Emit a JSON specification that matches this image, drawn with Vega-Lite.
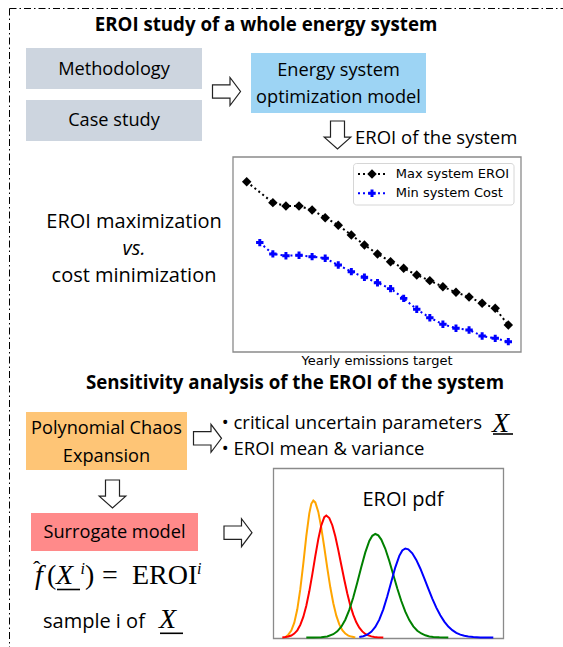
{
  "$schema": "https://vega.github.io/schema/vega-lite/v6.json",
  "width": 563,
  "height": 647,
  "padding": 0,
  "autosize": {"type": "none"},
  "background": "white",
  "config": {"view": {"stroke": null}},
  "datasets": {
    "border": [
      {"x": 9.5, "y": 8.5, "x2": 563, "y2": 8.5},
      {"x": 9.5, "y": 8.5, "x2": 9.5, "y2": 647}
    ],
    "boxes": [
      {"box": "Methodology", "kind": "input", "x": 26, "x2": 202, "y": 48, "y2": 89},
      {"box": "Case study", "kind": "input", "x": 26, "x2": 202, "y": 100, "y2": 141},
      {"box": "Energy system optimization model", "kind": "model", "x": 251, "x2": 426, "y": 53, "y2": 113},
      {"box": "Polynomial Chaos Expansion", "kind": "pce", "x": 26, "x2": 187, "y": 412, "y2": 470},
      {"box": "Surrogate model", "kind": "surrogate", "x": 31, "x2": 198, "y": 513, "y2": 551}
    ],
    "frames": [
      {"frame": "optimization results", "x": 233, "x2": 521, "y": 157, "y2": 352},
      {"frame": "EROI pdf", "x": 273.5, "x2": 503.5, "y": 468.5, "y2": 638.5}
    ],
    "legendbox": [
      {"x": 353.5, "x2": 514, "y": 163.5, "y2": 205}
    ],
    "arrows": [
      {"dir": "right", "x": 226.5, "y": 91.5},
      {"dir": "down", "x": 337.5, "y": 135},
      {"dir": "right", "x": 207.5, "y": 438.3},
      {"dir": "down", "x": 112.5, "y": 494},
      {"dir": "right", "x": 238, "y": 532.7}
    ],
    "titles": [
      {"text": "EROI study of a whole energy system", "x": 266, "y": 25},
      {"text": "Sensitivity analysis of the EROI of the system", "x": 295, "y": 383}
    ],
    "labels": [
      {"text": "Methodology", "x": 114, "y": 70},
      {"text": "Case study", "x": 114, "y": 121},
      {"text": "Energy system", "x": 338.5, "y": 71},
      {"text": "optimization model", "x": 338.5, "y": 98},
      {"text": "Polynomial Chaos", "x": 106.5, "y": 428.5},
      {"text": "Expansion", "x": 106.5, "y": 457},
      {"text": "Surrogate model", "x": 114.5, "y": 533}
    ],
    "biglabels": [
      {"text": "EROI maximization", "x": 134, "y": 222},
      {"text": "cost minimization", "x": 134, "y": 276},
      {"text": "EROI pdf", "x": 403, "y": 499.5}
    ],
    "leftlabels": [
      {"text": "EROI of the system", "x": 355, "y": 137.5},
      {"text": "• critical uncertain parameters", "x": 221.7, "y": 423.3},
      {"text": "• EROI mean & variance", "x": 221.7, "y": 449.3}
    ],
    "bigleftlabels": [
      {"text": "sample i of", "x": 43, "y": 621.7}
    ],
    "italic": [
      {"text": "vs.", "x": 134, "y": 249}
    ],
    "mathitalic": [
      {"text": "X", "x": 492, "y": 431.5},
      {"text": "X", "x": 159, "y": 628},
      {"text": "X", "x": 56, "y": 584},
      {"text": "f", "x": 35, "y": 584}
    ],
    "mathregular": [
      {"text": "(", "x": 47, "y": 584},
      {"text": ")", "x": 85, "y": 584},
      {"text": "=", "x": 102, "y": 584},
      {"text": "EROI", "x": 132, "y": 584}
    ],
    "hats": [
      {"text": "ˆ", "x": 33, "y": 576}
    ],
    "superscripts": [
      {"text": "i", "x": 80.5, "y": 574},
      {"text": "i", "x": 197, "y": 574}
    ],
    "underlines": [
      {"x": 57, "x2": 80, "y": 589.5, "y2": 589.5},
      {"x": 493, "x2": 513, "y": 434, "y2": 434},
      {"x": 160, "x2": 183, "y": 633.3, "y2": 633.3}
    ],
    "legendlines": [
      {"series": "Max system EROI", "x": 358, "x2": 386, "y": 174, "y2": 174},
      {"series": "Min system Cost", "x": 358, "x2": 386, "y": 193.3, "y2": 193.3}
    ],
    "legendmarks": [
      {"series": "Max system EROI", "x": 372, "y": 174},
      {"series": "Min system Cost", "x": 372, "y": 193.3}
    ],
    "legendtext": [
      {"text": "Max system EROI", "x": 395.7, "y": 174},
      {"text": "Min system Cost", "x": 395.7, "y": 193.3}
    ],
    "axistext": [
      {"text": "Yearly emissions target", "x": 377, "y": 360.7}
    ],
    "curves": [
      {"series": "Max system EROI", "target": 0, "eroi": 87.3},
      {"series": "Max system EROI", "target": 2, "eroi": 76.6},
      {"series": "Max system EROI", "target": 3, "eroi": 74.9},
      {"series": "Max system EROI", "target": 4, "eroi": 74.9},
      {"series": "Max system EROI", "target": 5, "eroi": 72.8},
      {"series": "Max system EROI", "target": 6, "eroi": 68.9},
      {"series": "Max system EROI", "target": 7, "eroi": 65.0},
      {"series": "Max system EROI", "target": 8, "eroi": 60.0},
      {"series": "Max system EROI", "target": 9, "eroi": 54.9},
      {"series": "Max system EROI", "target": 10, "eroi": 50.3},
      {"series": "Max system EROI", "target": 11, "eroi": 46.3},
      {"series": "Max system EROI", "target": 12, "eroi": 42.9},
      {"series": "Max system EROI", "target": 13, "eroi": 39.5},
      {"series": "Max system EROI", "target": 14, "eroi": 36.6},
      {"series": "Max system EROI", "target": 15, "eroi": 33.5},
      {"series": "Max system EROI", "target": 16, "eroi": 30.6},
      {"series": "Max system EROI", "target": 17, "eroi": 28.2},
      {"series": "Max system EROI", "target": 18, "eroi": 25.0},
      {"series": "Max system EROI", "target": 19, "eroi": 22.4},
      {"series": "Max system EROI", "target": 20, "eroi": 13.8},
      {"series": "Min system Cost", "target": 1, "eroi": 56.1},
      {"series": "Min system Cost", "target": 2, "eroi": 50.3},
      {"series": "Min system Cost", "target": 3, "eroi": 49.4},
      {"series": "Min system Cost", "target": 4, "eroi": 49.6},
      {"series": "Min system Cost", "target": 5, "eroi": 48.9},
      {"series": "Min system Cost", "target": 6, "eroi": 48.1},
      {"series": "Min system Cost", "target": 7, "eroi": 44.6},
      {"series": "Min system Cost", "target": 8, "eroi": 41.2},
      {"series": "Min system Cost", "target": 9, "eroi": 38.3},
      {"series": "Min system Cost", "target": 10, "eroi": 35.5},
      {"series": "Min system Cost", "target": 11, "eroi": 32.5},
      {"series": "Min system Cost", "target": 12, "eroi": 27.5},
      {"series": "Min system Cost", "target": 13, "eroi": 21.9},
      {"series": "Min system Cost", "target": 14, "eroi": 17.6},
      {"series": "Min system Cost", "target": 15, "eroi": 14.2},
      {"series": "Min system Cost", "target": 16, "eroi": 12.2},
      {"series": "Min system Cost", "target": 17, "eroi": 11.3},
      {"series": "Min system Cost", "target": 18, "eroi": 8.2},
      {"series": "Min system Cost", "target": 19, "eroi": 7.0},
      {"series": "Min system Cost", "target": 20, "eroi": 5.3}
    ],
    "pdf": [
      {"curve": "c1", "eroi": 12, "density": 0},
      {"curve": "c1", "eroi": 15, "density": 2.9},
      {"curve": "c1", "eroi": 18, "density": 6.9},
      {"curve": "c1", "eroi": 21, "density": 14.8},
      {"curve": "c1", "eroi": 24, "density": 28.2},
      {"curve": "c1", "eroi": 27, "density": 48.3},
      {"curve": "c1", "eroi": 30, "density": 73.9},
      {"curve": "c1", "eroi": 33, "density": 101.3},
      {"curve": "c1", "eroi": 36, "density": 124.1},
      {"curve": "c1", "eroi": 38, "density": 133.7},
      {"curve": "c1", "eroi": 40, "density": 137},
      {"curve": "c1", "eroi": 42, "density": 135.1},
      {"curve": "c1", "eroi": 45, "density": 125.6},
      {"curve": "c1", "eroi": 48, "density": 109.7},
      {"curve": "c1", "eroi": 51, "density": 90},
      {"curve": "c1", "eroi": 54, "density": 69.4},
      {"curve": "c1", "eroi": 57, "density": 50.2},
      {"curve": "c1", "eroi": 60, "density": 34.2},
      {"curve": "c1", "eroi": 63, "density": 21.8},
      {"curve": "c1", "eroi": 66, "density": 13.1},
      {"curve": "c1", "eroi": 69, "density": 7.4},
      {"curve": "c1", "eroi": 72, "density": 3.9},
      {"curve": "c1", "eroi": 75, "density": 1.9},
      {"curve": "c1", "eroi": 78, "density": 0.9},
      {"curve": "c1", "eroi": 82, "density": 0},
      {"curve": "c2", "eroi": 9, "density": 0},
      {"curve": "c2", "eroi": 12, "density": 0.4},
      {"curve": "c2", "eroi": 15, "density": 1},
      {"curve": "c2", "eroi": 18, "density": 2},
      {"curve": "c2", "eroi": 21, "density": 3.9},
      {"curve": "c2", "eroi": 24, "density": 7.2},
      {"curve": "c2", "eroi": 27, "density": 12.6},
      {"curve": "c2", "eroi": 30, "density": 20.6},
      {"curve": "c2", "eroi": 33, "density": 31.8},
      {"curve": "c2", "eroi": 36, "density": 46.2},
      {"curve": "c2", "eroi": 39, "density": 63.2},
      {"curve": "c2", "eroi": 42, "density": 81.3},
      {"curve": "c2", "eroi": 45, "density": 98.4},
      {"curve": "c2", "eroi": 48, "density": 112.2},
      {"curve": "c2", "eroi": 51, "density": 120.4},
      {"curve": "c2", "eroi": 53, "density": 122},
      {"curve": "c2", "eroi": 56, "density": 119.5},
      {"curve": "c2", "eroi": 59, "density": 112.3},
      {"curve": "c2", "eroi": 62, "density": 101.2},
      {"curve": "c2", "eroi": 65, "density": 87.4},
      {"curve": "c2", "eroi": 68, "density": 72.5},
      {"curve": "c2", "eroi": 71, "density": 57.7},
      {"curve": "c2", "eroi": 74, "density": 44},
      {"curve": "c2", "eroi": 77, "density": 32.1},
      {"curve": "c2", "eroi": 80, "density": 22.6},
      {"curve": "c2", "eroi": 83, "density": 15.2},
      {"curve": "c2", "eroi": 86, "density": 9.8},
      {"curve": "c2", "eroi": 89, "density": 6.1},
      {"curve": "c2", "eroi": 92, "density": 3.6},
      {"curve": "c2", "eroi": 95, "density": 2.1},
      {"curve": "c2", "eroi": 98, "density": 1.1},
      {"curve": "c2", "eroi": 101, "density": 0.6},
      {"curve": "c2", "eroi": 104, "density": 0.3},
      {"curve": "c2", "eroi": 110, "density": 0},
      {"curve": "c3", "eroi": 33, "density": 0},
      {"curve": "c3", "eroi": 40, "density": 0.1},
      {"curve": "c3", "eroi": 48, "density": 0.3},
      {"curve": "c3", "eroi": 54, "density": 1.1},
      {"curve": "c3", "eroi": 60, "density": 3.3},
      {"curve": "c3", "eroi": 64, "density": 6.2},
      {"curve": "c3", "eroi": 68, "density": 10.8},
      {"curve": "c3", "eroi": 72, "density": 17.8},
      {"curve": "c3", "eroi": 76, "density": 27.6},
      {"curve": "c3", "eroi": 80, "density": 40.2},
      {"curve": "c3", "eroi": 84, "density": 55},
      {"curve": "c3", "eroi": 88, "density": 70.6},
      {"curve": "c3", "eroi": 92, "density": 85.1},
      {"curve": "c3", "eroi": 96, "density": 96.5},
      {"curve": "c3", "eroi": 99, "density": 101.7},
      {"curve": "c3", "eroi": 102, "density": 103.5},
      {"curve": "c3", "eroi": 105, "density": 102.1},
      {"curve": "c3", "eroi": 108, "density": 97.9},
      {"curve": "c3", "eroi": 112, "density": 88.7},
      {"curve": "c3", "eroi": 116, "density": 76.5},
      {"curve": "c3", "eroi": 120, "density": 62.8},
      {"curve": "c3", "eroi": 124, "density": 49},
      {"curve": "c3", "eroi": 128, "density": 36.5},
      {"curve": "c3", "eroi": 132, "density": 25.8},
      {"curve": "c3", "eroi": 136, "density": 17.4},
      {"curve": "c3", "eroi": 140, "density": 11.1},
      {"curve": "c3", "eroi": 144, "density": 6.8},
      {"curve": "c3", "eroi": 148, "density": 4},
      {"curve": "c3", "eroi": 152, "density": 2.2},
      {"curve": "c3", "eroi": 156, "density": 1.1},
      {"curve": "c3", "eroi": 160, "density": 0.6},
      {"curve": "c3", "eroi": 166, "density": 0.2},
      {"curve": "c3", "eroi": 175, "density": 0},
      {"curve": "c4", "eroi": 86, "density": 0.6},
      {"curve": "c4", "eroi": 90, "density": 1.3},
      {"curve": "c4", "eroi": 94, "density": 2.9},
      {"curve": "c4", "eroi": 98, "density": 5.7},
      {"curve": "c4", "eroi": 102, "density": 10.5},
      {"curve": "c4", "eroi": 106, "density": 17.8},
      {"curve": "c4", "eroi": 110, "density": 28.2},
      {"curve": "c4", "eroi": 114, "density": 41.2},
      {"curve": "c4", "eroi": 118, "density": 55.8},
      {"curve": "c4", "eroi": 122, "density": 70.2},
      {"curve": "c4", "eroi": 126, "density": 81.7},
      {"curve": "c4", "eroi": 129, "density": 87.1},
      {"curve": "c4", "eroi": 132, "density": 89},
      {"curve": "c4", "eroi": 135, "density": 88.1},
      {"curve": "c4", "eroi": 139, "density": 84.2},
      {"curve": "c4", "eroi": 143, "density": 77.6},
      {"curve": "c4", "eroi": 147, "density": 69},
      {"curve": "c4", "eroi": 151, "density": 59.1},
      {"curve": "c4", "eroi": 155, "density": 48.8},
      {"curve": "c4", "eroi": 159, "density": 38.9},
      {"curve": "c4", "eroi": 163, "density": 29.9},
      {"curve": "c4", "eroi": 167, "density": 22.2},
      {"curve": "c4", "eroi": 171, "density": 15.9},
      {"curve": "c4", "eroi": 175, "density": 10.9},
      {"curve": "c4", "eroi": 179, "density": 7.3},
      {"curve": "c4", "eroi": 183, "density": 4.7},
      {"curve": "c4", "eroi": 187, "density": 2.9},
      {"curve": "c4", "eroi": 191, "density": 1.7},
      {"curve": "c4", "eroi": 195, "density": 1},
      {"curve": "c4", "eroi": 200, "density": 0.5},
      {"curve": "c4", "eroi": 207, "density": 0.1},
      {"curve": "c4", "eroi": 220, "density": 0}
    ]
  },
  "resolve": {"scale": {"x": "independent", "y": "independent", "color": "independent", "shape": "independent"}},
  "layer": [
    {
      "encoding": {
        "x": {"field": "x", "type": "quantitative", "scale": {"domain": [0, 563], "range": [0, 563], "nice": false, "zero": false}, "axis": null},
        "y": {"field": "y", "type": "quantitative", "scale": {"domain": [0, 647], "range": [0, 647], "nice": false, "zero": false}, "axis": null}
      },
      "resolve": {"scale": {"color": "independent", "shape": "independent"}},
      "layer": [
        {
          "data": {"name": "border"},
          "mark": {"type": "rule", "color": "#000000", "strokeWidth": 1, "strokeDash": [7, 3, 1.5, 3]},
          "encoding": {"x2": {"field": "x2"}, "y2": {"field": "y2"}}
        },
        {
          "data": {"name": "boxes"},
          "mark": {"type": "rect", "opacity": 1},
          "encoding": {
            "x2": {"field": "x2"},
            "y2": {"field": "y2"},
            "color": {"field": "kind", "type": "nominal", "scale": {"domain": ["input", "model", "pce", "surrogate"], "range": ["#cdd5df", "#9dd4f4", "#fec576", "#ff8a8a"]}, "legend": null}
          }
        },
        {
          "data": {"name": "frames"},
          "mark": {"type": "rect", "fill": "white", "stroke": "#8a8a8a", "strokeWidth": 1.3},
          "encoding": {"x2": {"field": "x2"}, "y2": {"field": "y2"}}
        },
        {
          "data": {"name": "legendbox"},
          "mark": {"type": "rect", "fill": "white", "stroke": "#d6d6d6", "strokeWidth": 1, "cornerRadius": 3},
          "encoding": {"x2": {"field": "x2"}, "y2": {"field": "y2"}}
        },
        {
          "data": {"name": "legendlines"},
          "mark": {"type": "rule", "strokeWidth": 2, "strokeDash": [2, 3]},
          "encoding": {
            "x2": {"field": "x2"},
            "y2": {"field": "y2"},
            "color": {"field": "series", "type": "nominal", "scale": {"domain": ["Max system EROI", "Min system Cost"], "range": ["#000000", "#0000ff"]}, "legend": null}
          }
        },
        {
          "data": {"name": "legendmarks"},
          "mark": {"type": "point", "filled": true, "opacity": 1},
          "encoding": {
            "color": {"field": "series", "type": "nominal", "scale": {"domain": ["Max system EROI", "Min system Cost"], "range": ["#000000", "#0000ff"]}, "legend": null},
            "shape": {"field": "series", "type": "nominal", "scale": {"domain": ["Max system EROI", "Min system Cost"], "range": ["diamond", "cross"]}, "legend": null},
            "size": {"field": "series", "type": "nominal", "scale": {"domain": ["Max system EROI", "Min system Cost"], "range": [90, 55]}, "legend": null}
          }
        },
        {
          "data": {"name": "arrows"},
          "mark": {"type": "point", "filled": false, "fill": "white", "fillOpacity": 1, "stroke": "#222222", "strokeWidth": 1.2, "opacity": 1, "size": 784},
          "encoding": {
            "shape": {"field": "dir", "type": "nominal", "scale": {"domain": ["right", "down"], "range": ["M-1,-0.48 L0.25,-0.48 L0.25,-1 L1,0 L0.25,1 L0.25,0.48 L-1,0.48 Z", "M-0.5,-1 L0.5,-1 L0.5,0.15 L0.95,0.15 L0,1 L-0.95,0.15 L-0.5,0.15 Z"]}, "legend": null}
          }
        },
        {
          "data": {"name": "underlines"},
          "mark": {"type": "rule", "color": "#000000", "strokeWidth": 1.6},
          "encoding": {"x2": {"field": "x2"}, "y2": {"field": "y2"}}
        },
        {
          "data": {"name": "titles"},
          "mark": {"type": "text", "font": "Open Sans", "fontSize": 18.7, "fontWeight": "bold", "align": "center", "baseline": "middle", "color": "#000000"},
          "encoding": {"text": {"field": "text"}}
        },
        {
          "data": {"name": "labels"},
          "mark": {"type": "text", "font": "Open Sans", "fontSize": 18.2, "align": "center", "baseline": "middle", "color": "#000000"},
          "encoding": {"text": {"field": "text"}}
        },
        {
          "data": {"name": "biglabels"},
          "mark": {"type": "text", "font": "Open Sans", "fontSize": 20, "align": "center", "baseline": "middle", "color": "#000000"},
          "encoding": {"text": {"field": "text"}}
        },
        {
          "data": {"name": "leftlabels"},
          "mark": {"type": "text", "font": "Open Sans", "fontSize": 18.5, "align": "left", "baseline": "middle", "color": "#000000"},
          "encoding": {"text": {"field": "text"}}
        },
        {
          "data": {"name": "bigleftlabels"},
          "mark": {"type": "text", "font": "Open Sans", "fontSize": 20, "align": "left", "baseline": "middle", "color": "#000000"},
          "encoding": {"text": {"field": "text"}}
        },
        {
          "data": {"name": "italic"},
          "mark": {"type": "text", "font": "Open Sans", "fontSize": 20, "fontStyle": "italic", "align": "center", "baseline": "middle", "color": "#000000"},
          "encoding": {"text": {"field": "text"}}
        },
        {
          "data": {"name": "mathitalic"},
          "mark": {"type": "text", "font": "Liberation Serif", "fontSize": 28, "fontStyle": "italic", "align": "left", "baseline": "alphabetic", "color": "#000000"},
          "encoding": {"text": {"field": "text"}}
        },
        {
          "data": {"name": "mathregular"},
          "mark": {"type": "text", "font": "Liberation Serif", "fontSize": 28, "align": "left", "baseline": "alphabetic", "color": "#000000"},
          "encoding": {"text": {"field": "text"}}
        },
        {
          "data": {"name": "hats"},
          "mark": {"type": "text", "font": "Liberation Serif", "fontSize": 22, "align": "left", "baseline": "alphabetic", "color": "#000000"},
          "encoding": {"text": {"field": "text"}}
        },
        {
          "data": {"name": "superscripts"},
          "mark": {"type": "text", "font": "Liberation Serif", "fontSize": 16, "fontStyle": "italic", "align": "left", "baseline": "alphabetic", "color": "#000000"},
          "encoding": {"text": {"field": "text"}}
        },
        {
          "data": {"name": "legendtext"},
          "mark": {"type": "text", "font": "DejaVu Sans", "fontSize": 13, "align": "left", "baseline": "middle", "color": "#000000"},
          "encoding": {"text": {"field": "text"}}
        },
        {
          "data": {"name": "axistext"},
          "mark": {"type": "text", "font": "DejaVu Sans", "fontSize": 13, "align": "center", "baseline": "middle", "color": "#000000"},
          "encoding": {"text": {"field": "text"}}
        }
      ]
    },
    {
      "data": {"name": "curves"},
      "encoding": {
        "x": {"field": "target", "type": "quantitative", "scale": {"domain": [0, 20], "range": [246.7, 508.3], "nice": false, "zero": false}, "axis": null},
        "y": {"field": "eroi", "type": "quantitative", "scale": {"domain": [0, 100], "range": [352, 157], "nice": false, "zero": false}, "axis": null},
        "color": {"field": "series", "type": "nominal", "scale": {"domain": ["Max system EROI", "Min system Cost"], "range": ["#000000", "#0000ff"]}, "legend": null}
      },
      "layer": [
        {"mark": {"type": "line", "strokeWidth": 2, "strokeDash": [2, 3]}},
        {
          "mark": {"type": "point", "filled": true, "opacity": 1},
          "encoding": {
            "shape": {"field": "series", "type": "nominal", "scale": {"domain": ["Max system EROI", "Min system Cost"], "range": ["diamond", "cross"]}, "legend": null},
            "size": {"field": "series", "type": "nominal", "scale": {"domain": ["Max system EROI", "Min system Cost"], "range": [100, 55]}, "legend": null}
          }
        }
      ]
    },
    {
      "data": {"name": "pdf"},
      "mark": {"type": "line", "strokeWidth": 2},
      "encoding": {
        "x": {"field": "eroi", "type": "quantitative", "scale": {"domain": [0, 230], "range": [273.3, 503.3], "nice": false, "zero": false}, "axis": null},
        "y": {"field": "density", "type": "quantitative", "scale": {"domain": [0, 170], "range": [637.5, 467.5], "nice": false, "zero": false}, "axis": null},
        "color": {"field": "curve", "type": "nominal", "scale": {"domain": ["c1", "c2", "c3", "c4"], "range": ["#ffa500", "#ff0000", "#008000", "#0000ff"]}, "legend": null}
      }
    }
  ]
}
